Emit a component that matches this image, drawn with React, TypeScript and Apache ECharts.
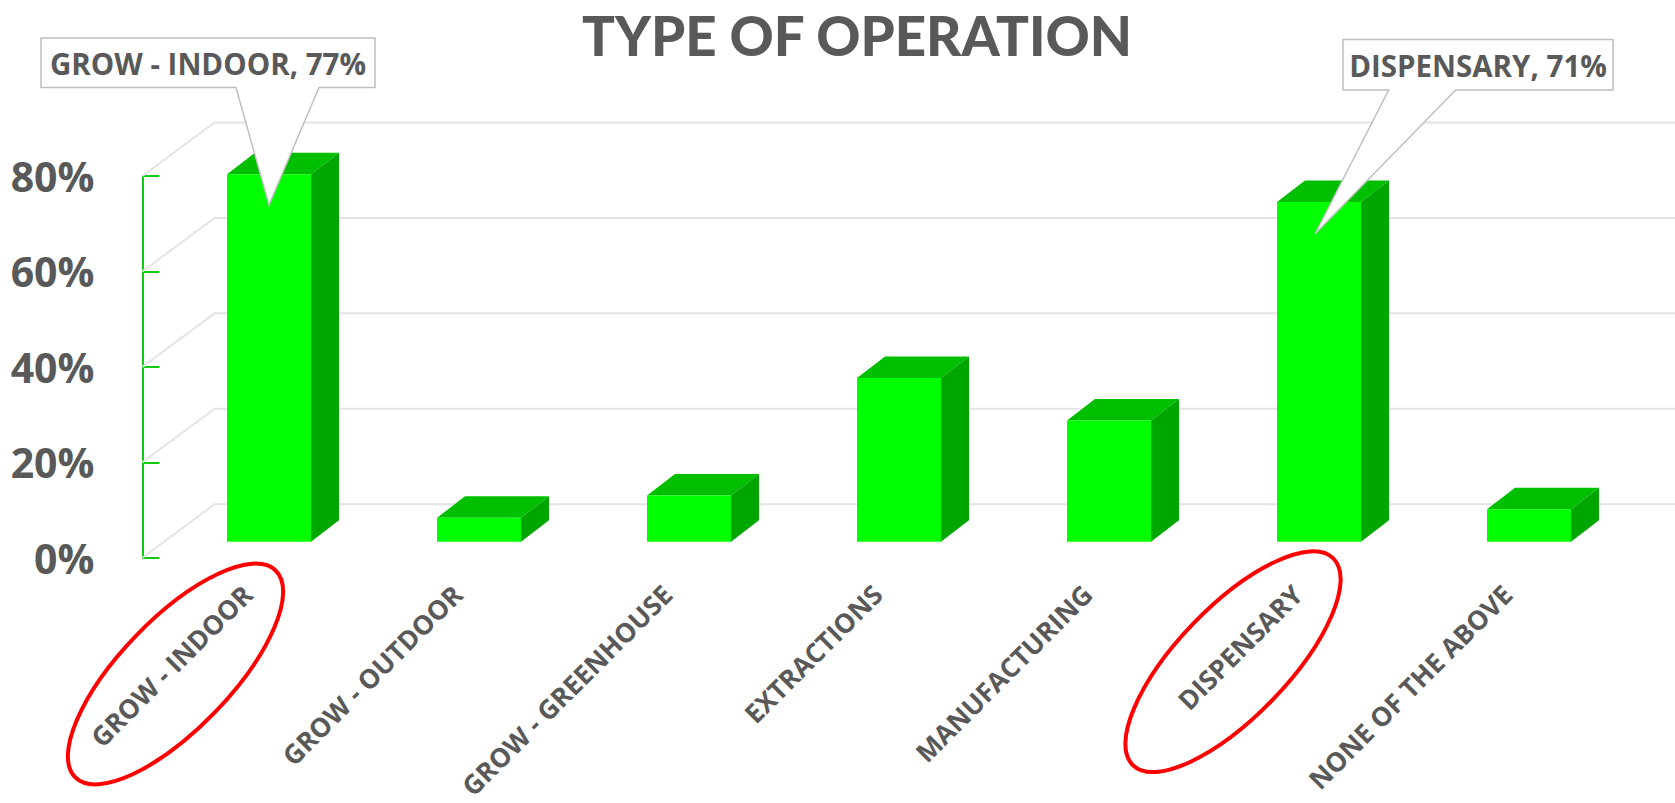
import React, { useEffect, useRef } from "react";
import * as echarts from "echarts";

const titleText = "TYPE OF OPERATION";
const categories = [
  "GROW - INDOOR",
  "GROW - OUTDOOR",
  "GROW - GREENHOUSE",
  "EXTRACTIONS",
  "MANUFACTURING",
  "DISPENSARY",
  "NONE OF THE ABOVE",
];
const percentages = [77, 5, 9.7, 34.3, 25.4, 71.2, 6.8];
const wallTicks = [0, 20, 40, 60, 80];
const calloutTexts = ["GROW - INDOOR, 77%", "DISPENSARY, 71%"];

const GREY = "#595959";
const FONT = '"Open Sans", sans-serif';

function calloutShape(points: number[][], text: string, tx: number, ty: number) {
  return [
    {
      type: "polygon",
      z: 20,
      shape: { points },
      style: { fill: "#ffffff", stroke: "#bfbfbf", lineWidth: 1.5 },
    },
    {
      type: "text",
      z: 21,
      x: tx,
      y: ty,
      style: {
        text,
        fill: GREY,
        font: `700 29.5px ${FONT}`,
        textAlign: "center",
        textVerticalAlign: "middle",
      },
    },
  ];
}

function loop(cx: number, cy: number) {
  return {
    type: "ellipse",
    z: 20,
    x: cx,
    y: cy,
    rotation: (46 * Math.PI) / 180,
    shape: { cx: 0, cy: 0, rx: 144, ry: 55 },
    style: { fill: "none", stroke: "#ff0000", lineWidth: 4 },
  };
}

export default function App() {
  const ref = useRef<HTMLDivElement>(null);

  useEffect(() => {
    const chart = echarts.init(ref.current!, undefined, { renderer: "svg" });

    const WALL_DX = 72;
    const WALL_DY = 53.5;
    const BAR_DX = 21.5;
    const BAR_DY = 16;
    const BAR_DEPTH_X = 28;
    const BAR_DEPTH_Y = 21.5;

    const option: any = {
      animation: false,
      backgroundColor: "#ffffff",
      title: {
        text: titleText,
        left: 852,
        top: 2,
        textAlign: "center",
        textStyle: { color: GREY, fontFamily: 'Lato, "Open Sans", sans-serif', fontWeight: 900, fontSize: 54.6 },
      },
      grid: {
        left: 142.5,
        right: 62.5,
        top: 176,
        bottom: 245.3,
        containLabel: false,
        outerBoundsMode: "none",
      },
      xAxis: {
        type: "category",
        data: categories,
        axisLine: { show: false },
        axisTick: { show: false },
        splitLine: { show: false },
        axisLabel: {
          interval: 0,
          rotate: 45,
          margin: 32,
          color: GREY,
          fontFamily: FONT,
          fontWeight: 700,
          fontSize: 26.5,
        },
      },
      yAxis: {
        type: "value",
        min: 0,
        max: 80,
        interval: 20,
        splitLine: { show: false },
        axisLine: { show: true, lineStyle: { color: "#11cc11", width: 2 } },
        axisTick: { show: true, inside: true, length: 17, lineStyle: { color: "#11cc11", width: 2 } },
        axisLabel: {
          margin: 48,
          color: GREY,
          fontFamily: FONT,
          fontWeight: 700,
          fontSize: 41,
          formatter: "{value}%",
        },
      },
      series: [
        {
          type: "custom",
          z: 1,
          silent: true,
          data: wallTicks.map((t) => [0, t]),
          encode: { x: 0, y: 1 },
          renderItem: (params: any, api: any) => {
            const p = api.coord([0, api.value(1)]);
            const left = params.coordSys.x;
            const right = left + params.coordSys.width;
            const y = p[1];
            return {
              type: "polyline",
              shape: {
                points: [
                  [left, y],
                  [left + WALL_DX, y - WALL_DY],
                  [right + WALL_DX, y - WALL_DY],
                ],
              },
              style: { fill: "none", stroke: "#e4e4e4", lineWidth: 2 },
            };
          },
        },
        {
          type: "custom",
          z: 2,
          silent: true,
          data: percentages.map((v, i) => [i, v]),
          encode: { x: 0, y: 1 },
          renderItem: (_params: any, api: any) => {
            const i = api.value(0);
            const top = api.coord([i, api.value(1)]);
            const base = api.coord([i, 0]);
            const w = api.size([1, 0])[0] * 0.4;
            const x0 = top[0] + BAR_DX - w / 2;
            const x1 = x0 + w;
            const yTop = top[1] - BAR_DY;
            const yBase = base[1] - BAR_DY;
            return {
              type: "group",
              children: [
                {
                  type: "polygon",
                  shape: {
                    points: [
                      [x0, yTop],
                      [x0 + BAR_DEPTH_X, yTop - BAR_DEPTH_Y],
                      [x1 + BAR_DEPTH_X, yTop - BAR_DEPTH_Y],
                      [x1, yTop],
                    ],
                  },
                  style: { fill: "#00bf00" },
                },
                {
                  type: "polygon",
                  shape: {
                    points: [
                      [x1, yTop],
                      [x1 + BAR_DEPTH_X, yTop - BAR_DEPTH_Y],
                      [x1 + BAR_DEPTH_X, yBase - BAR_DEPTH_Y],
                      [x1, yBase],
                    ],
                  },
                  style: { fill: "#00a600" },
                },
                {
                  type: "rect",
                  shape: { x: x0, y: yTop, width: w, height: yBase - yTop },
                  style: { fill: "#00ff00" },
                },
              ],
            };
          },
        },
      ],
      graphic: {
        elements: [
          ...calloutShape(
            [
              [41, 38], [375, 38], [375, 87.5], [319, 87.5], [269, 205], [236, 87.5], [41, 87.5],
            ],
            calloutTexts[0], 208, 63
          ),
          ...calloutShape(
            [
              [1343, 39.5], [1613, 39.5], [1613, 90], [1455.7, 90], [1315, 234], [1388.7, 90], [1343, 90],
            ],
            calloutTexts[1], 1478, 65
          ),
          loop(175.5, 674),
          loop(1233, 661.7),
        ],
      },
    };

    chart.setOption(option);
    return () => chart.dispose();
  }, []);

  return (
    <div
      ref={ref}
      style={{ position: "fixed", left: 0, top: 0, width: 1675, height: 803 }}
    />
  );
}
